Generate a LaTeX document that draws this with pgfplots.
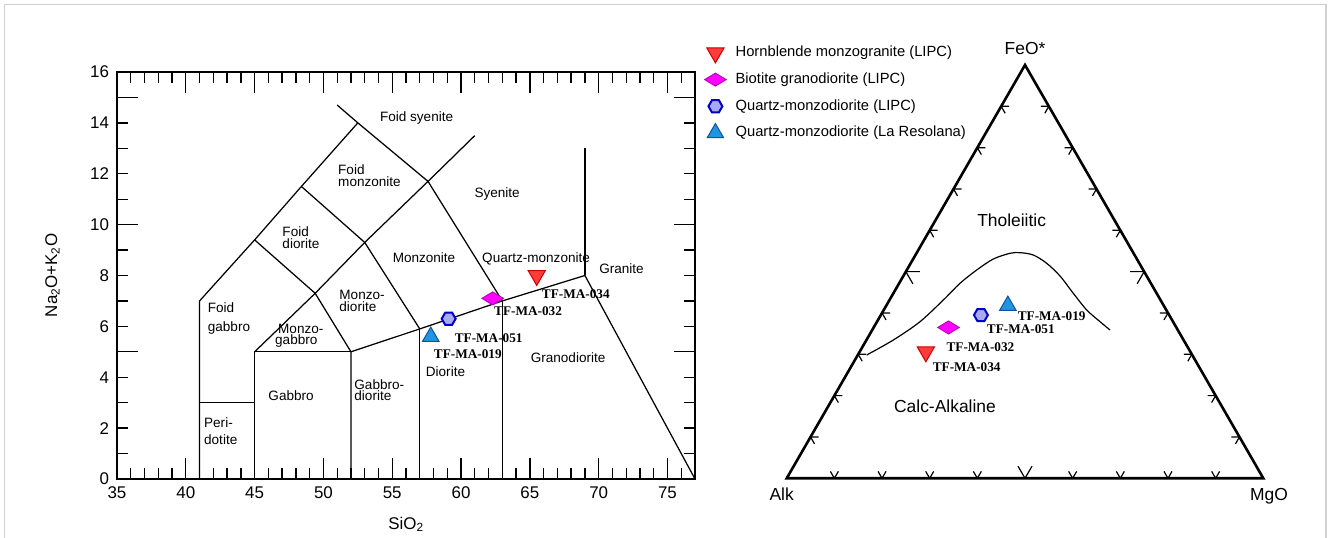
\documentclass[border=0pt]{standalone}
\usepackage{fontspec}
\setmainfont{Liberation Sans}
\newfontfamily\tnr{Liberation Serif}
\usepackage{pgfplots}
\pgfplotsset{compat=1.18}
\definecolor{redfill}{RGB}{255,60,60}
\definecolor{redline}{RGB}{200,0,0}
\definecolor{magfill}{RGB}{255,0,255}
\definecolor{magline}{RGB}{190,0,190}
\definecolor{hexfill}{RGB}{170,170,240}
\definecolor{hexline}{RGB}{0,0,200}
\definecolor{cyfill}{RGB}{30,150,225}
\definecolor{cyline}{RGB}{20,80,160}
\definecolor{pageframe}{RGB}{208,208,208}
\pgfdeclareplotmark{hexagon*}{%
  \pgfpathmoveto{\pgfqpointpolar{0}{\pgfplotmarksize}}%
  \pgfpathlineto{\pgfqpointpolar{60}{\pgfplotmarksize}}%
  \pgfpathlineto{\pgfqpointpolar{120}{\pgfplotmarksize}}%
  \pgfpathlineto{\pgfqpointpolar{180}{\pgfplotmarksize}}%
  \pgfpathlineto{\pgfqpointpolar{240}{\pgfplotmarksize}}%
  \pgfpathlineto{\pgfqpointpolar{300}{\pgfplotmarksize}}%
  \pgfpathclose
  \pgfusepathqfillstroke}
\tikzset{
  fld/.style={font=\fontsize{13.6}{12.7}\selectfont, inner sep=0pt, align=left, anchor=north west},
  fls/.style={font=\fontsize{13.6}{14}\selectfont, inner sep=0pt, anchor=base},
  smp/.style={font=\tnr\bfseries\fontsize{13.3}{14}\selectfont, inner sep=0pt, anchor=base},
  tlab/.style={font=\fontsize{17.5}{18}\selectfont, inner sep=0pt, anchor=base},
  tk/.style={line width=1.2bp, black},
}
\pgfplotsset{
  sHB/.style={only marks, mark=triangle*, mark size=10, mark options={rotate=180, fill=redfill, draw=redline, line width=1bp}},
  sBG/.style={only marks, mark=diamond*, mark size=6.5, mark options={xscale=2.2, fill=magfill, draw=magline, line width=1bp}},
  sQL/.style={only marks, mark=hexagon*, mark size=7, mark options={fill=hexfill, draw=hexline, line width=2bp}},
  sQR/.style={only marks, mark=triangle*, mark size=9.5, mark options={fill=cyfill, draw=cyline, line width=1bp}},
  bnd/.style={black, line width=1.25bp, forget plot, mark=none},
}
\begin{document}
\begin{tikzpicture}
\useasboundingbox (0,0) rectangle (1328bp,538bp);
\draw[pageframe, line width=1.5bp] (4.5bp,-5bp) -- (4.5bp,533.5bp) -- (1326bp,533.5bp) -- (1326bp,-5bp);

% ---------------- TAS diagram ----------------
\begin{axis}[
  at={(117bp,59bp)}, anchor=south west,
  width=578bp, height=407bp, scale only axis,
  xmin=35, xmax=77, ymin=0, ymax=16,
  axis line style={line width=2.6bp},
  tick style={line width=1.3bp, black},
  major tick length=20.7bp, minor tick length=10.8bp,
  xtick={35,40,...,75}, minor xtick={35,...,77},
  ytick={5,10,15}, yticklabels={,,},
  extra y ticks={0,2,...,16}, extra y tick style={major tick length=0bp},
  minor ytick={0,...,16},
  xtick pos=both, ytick pos=both, xticklabel pos=lower, yticklabel pos=left,
  tick align=inside,
  ticklabel style={font=\fontsize{17}{17}\selectfont},
  xticklabel style={yshift=-4bp},
  yticklabel style={xshift=-4.5bp},
  /pgf/number format/assume math mode=true,
  xlabel={SiO\textsubscript{2}},
  ylabel={Na\textsubscript{2}O+K\textsubscript{2}O},
  label style={font=\fontsize{17}{17}\selectfont},
  xlabel style={at={(axis description cs:0.5,-0.1236)}, anchor=base},
  ylabel style={at={(axis description cs:-0.1038,0.5)}, anchor=base},
  clip=false,
  legend style={at={(axis description cs:1.0156,1.0671)}, anchor=north west,
    draw=none, fill=none, inner sep=0pt,
    font=\fontsize{14.8}{16}\selectfont, row sep=10.7bp,
    nodes={inner sep=1bp, text height=10.8bp, text depth=3.2bp}},
  legend cell align=left,
  legend image code/.code={\path (-11bp,0bp) (19bp,0bp); \draw[#1, overlay] plot coordinates {(0bp,0bp)};},
]
% field boundaries
\addplot[bnd] coordinates {(41,0) (41,7) (45,9.4) (48.4,11.5) (52.5,14)};
\addplot[bnd] coordinates {(51,14.7) (52.5,14) (57.6,11.7) (63,7)};
\addplot[bnd] coordinates {(41,3) (45,3)};
\addplot[bnd] coordinates {(45,0) (45,5) (52,5)};
\addplot[bnd] coordinates {(45,5) (49.4,7.3) (53,9.3) (57.6,11.7) (61,13.5)};
\addplot[bnd] coordinates {(45,9.4) (49.4,7.3) (52,5) (52,0)};
\addplot[bnd] coordinates {(48.4,11.5) (53,9.3) (57,5.9)};
\addplot[bnd] coordinates {(52,5) (57,5.9) (63,7) (69,8) (77,0)};
\addplot[bnd] coordinates {(57,0) (57,5.9)};
\addplot[bnd] coordinates {(63,0) (63,7)};
\addplot[bnd] coordinates {(69,8) (69,13)};
% samples
\addplot[sHB] coordinates {(65.5,8.0)};
\addlegendentry{Hornblende monzogranite (LIPC)}
\addplot[sBG] coordinates {(62.3,7.1)};
\addlegendentry{Biotite granodiorite (LIPC)}
\addplot[sQL] coordinates {(59.1,6.3)};
\addlegendentry{Quartz-monzodiorite (LIPC)}
\addplot[sQR] coordinates {(57.8,5.6)};
\addlegendentry{Quartz-monzodiorite (La Resolana)}
% field names
\node[fls] at (axis cs:56.77,14.04) {Foid syenite};
\node[fld] at (axis cs:51.06,12.38) {Foid\\monzonite};
\node[fld] at (axis cs:47.01,9.94) {Foid\\diorite};
\node[fls] at (axis cs:57.31,8.52) {Monzonite};
\node[fls] at (axis cs:62.62,11.06) {Syenite};
\node[fls] at (axis cs:65.45,8.52) {Quartz-monzonite};
\node[fls] at (axis cs:71.66,8.06) {Granite};
\node[fls] at (axis cs:67.78,4.58) {Granodiorite};
\node[fls] at (axis cs:58.87,4.03) {Diorite};
\node[fld, font=\fontsize{13.6}{11.7}\selectfont] at (axis cs:51.15,7.43) {Monzo-\\diorite};
\node[fld, font=\fontsize{13.6}{19}\selectfont] at (axis cs:41.59,6.93) {Foid\\gabbro};
\node[fld, font=\fontsize{13.6}{11.4}\selectfont] at (axis cs:46.48,6.11) {\hspace{3bp}Monzo-\\gabbro};
\node[fls] at (axis cs:47.65,3.07) {Gabbro};
\node[fld, font=\fontsize{13.6}{11.7}\selectfont] at (axis cs:52.24,3.92) {Gabbro-\\diorite};
\node[fld, font=\fontsize{13.6}{17.3}\selectfont] at (axis cs:41.32,2.41) {Peri-\\dotite};
% sample names
\node[smp] at (axis cs:68.34,7.08) {TF-MA-034};
\node[smp] at (axis cs:64.87,6.43) {TF-MA-032};
\node[smp] at (axis cs:62.01,5.35) {TF-MA-051};
\node[smp] at (axis cs:60.49,4.72) {TF-MA-019};
\end{axis}

% ---------------- AFM ternary diagram ----------------
\begin{axis}[
  at={(786.7bp,59.7bp)}, anchor=south west,
  width=476.6bp, height=413.3bp, scale only axis,
  xmin=0, xmax=100, ymin=0, ymax=100,
  axis lines=none, clip=false,
]
\draw[line width=2.6bp, line join=miter] (axis cs:0,0) -- (axis cs:100,0) -- (axis cs:50,100) -- cycle;
\foreach \a in {10,20,30,40,60,70,80,90}{%
  \edef\tmp{\noexpand\draw[tk] (axis cs:\a,0) -- ++(60:8bp) (axis cs:\a,0) -- ++(120:8bp);}\tmp}
\foreach \a/\b in {5/10,10/20,15/30,20/40,30/60,35/70,40/80,45/90}{%
  \edef\tmp{\noexpand\draw[tk] (axis cs:\a,\b) -- ++(0:8bp) (axis cs:\a,\b) -- ++(-60:8bp);}\tmp}
\foreach \a/\b in {95/10,90/20,85/30,80/40,70/60,65/70,60/80,55/90}{%
  \edef\tmp{\noexpand\draw[tk] (axis cs:\a,\b) -- ++(180:8bp) (axis cs:\a,\b) -- ++(240:8bp);}\tmp}
\draw[tk] (axis cs:50,0) -- ++(60:14bp) (axis cs:50,0) -- ++(120:14bp);
\draw[tk] (axis cs:25,50) -- ++(0:14bp) (axis cs:25,50) -- ++(-60:14bp);
\draw[tk] (axis cs:75,50) -- ++(180:14bp) (axis cs:75,50) -- ++(240:14bp);
% Irvine & Baragar dividing curve (A F M in %)
\addplot[black, line width=1.2bp, smooth, mark=none, forget plot]
  table[row sep=\\, x expr=\thisrow{M}+0.5*\thisrow{F}, y=F] {
  A F M\\
  68.30 29.83 1.87\\
  60.90 33.46 5.64\\
  53.08 37.89 9.03\\
  45.57 43.14 11.29\\
  40.05 47.18 12.77\\
  34.93 50.40 14.67\\
  30.12 53.06 16.82\\
  25.93 54.44 19.63\\
  23.75 54.59 21.66\\
  21.25 54.03 24.72\\
  19.44 52.02 28.54\\
  18.18 48.95 32.87\\
  17.49 44.76 37.75\\
  16.69 40.72 42.59\\
  15.31 37.89 46.80\\
  14.22 35.88 49.90\\
};
\addplot[sHB, forget plot] table[row sep=\\, x expr=\thisrow{M}+0.5*\thisrow{F}, y=F] {A F M\\ 55.5 30.6 13.9\\};
\addplot[sBG, forget plot] table[row sep=\\, x expr=\thisrow{M}+0.5*\thisrow{F}, y=F] {A F M\\ 47.8 36.5 15.7\\};
\addplot[sQL, forget plot] table[row sep=\\, x expr=\thisrow{M}+0.5*\thisrow{F}, y=F] {A F M\\ 39.5 39.5 21.0\\};
\addplot[sQR, forget plot] table[row sep=\\, x expr=\thisrow{M}+0.5*\thisrow{F}, y=F] {A F M\\ 32.7 41.8 25.5\\};
\node[smp] at (axis cs:37.77,25.77) {TF-MA-034};
\node[smp] at (axis cs:40.66,30.75) {TF-MA-032};
\node[smp] at (axis cs:49.12,35.03) {TF-MA-051};
\node[smp] at (axis cs:55.60,38.25) {TF-MA-019};
\node[tlab] at (axis cs:47.2,60.97) {Tholeiitic};
\node[tlab] at (axis cs:33.21,15.80) {Calc-Alkaline};
\node[tlab] at (axis cs:50,102.5) {FeO*};
\node[tlab] at (axis cs:-1.05,-5.40) {Alk};
\node[tlab] at (axis cs:101.2,-5.40) {MgO};
\end{axis}
\end{tikzpicture}
\end{document}
